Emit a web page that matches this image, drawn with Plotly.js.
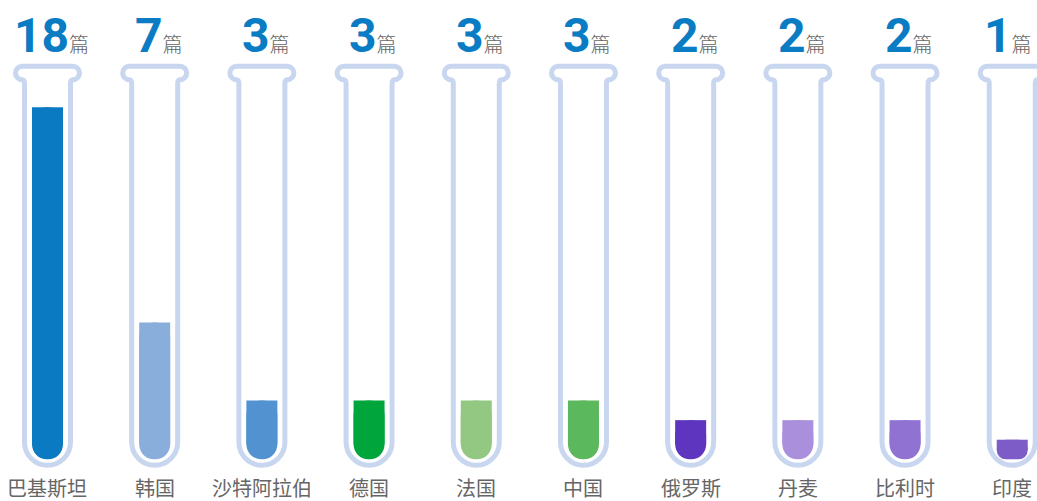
<!DOCTYPE html>
<html>
<head>
<meta charset="utf-8">
<script src="https://cdn.plot.ly/plotly-3.0.1.min.js"></script>
<style>html,body{margin:0;padding:0;background:#fff;}#chart{width:1037px;height:501px;}</style>
</head>
<body>
<div id="chart"></div>
<script>
// ---- data ----
var categories = ['巴基斯坦', '韩国', '沙特阿拉伯', '德国', '法国', '中国', '俄罗斯', '丹麦', '比利时', '印度'];
var values = [18, 7, 3, 3, 3, 3, 2, 2, 2, 1];
var unitLabel = '篇';
var barColors = ['#0a7bc2', '#8aaedc', '#5292d0', '#00a63c', '#93c882', '#5cb85c', '#5e35be', '#a98fdc', '#9072d2', '#7e5cc8'];

// ---- style ----
var tubeColor = '#c8d7ef';
var numColor = '#0a7cc4';
var labelColor = '#666666';
var yMin = -0.6, yMax = 20.47, plotH = 412;
var ppu = plotH / (yMax - yMin);
var capUnits = 15 / ppu;

var xIdx = categories.map(function (c, i) { return i; });

// tube outline in pixel offsets relative to (category, 0); +y is up
function tubePath() {
  var w = 23, k = 0.5523, arcC = 17, r = 23;
  var top = 375.5, lipB = 379.5, lipT = 392.9, lipX = 25.3, lipR = 32, lr = 6.7, lk = lr * k;
  function p(x, y) { return x.toFixed(2) + ',' + y.toFixed(2); }
  return 'M' + p(-w, top) +
    ' L' + p(-w, arcC) +
    ' C' + p(-w, arcC - r * k) + ' ' + p(-r * k, arcC - r) + ' ' + p(0, arcC - r) +
    ' C' + p(r * k, arcC - r) + ' ' + p(w, arcC - r * k) + ' ' + p(w, arcC) +
    ' L' + p(w, top) +
    ' C' + p(w, top + 2.5) + ' ' + p(w + 1, lipB) + ' ' + p(lipX, lipB) +
    ' C' + p(lipX + lk, lipB) + ' ' + p(lipR, lipB + lr - lk) + ' ' + p(lipR, lipB + lr) +
    ' C' + p(lipR, lipB + lr + lk) + ' ' + p(lipX + lk, lipT) + ' ' + p(lipX, lipT) +
    ' L' + p(-lipX, lipT) +
    ' C' + p(-lipX - lk, lipT) + ' ' + p(-lipR, lipB + lr + lk) + ' ' + p(-lipR, lipB + lr) +
    ' C' + p(-lipR, lipB + lr - lk) + ' ' + p(-lipX - lk, lipB) + ' ' + p(-lipX, lipB) +
    ' C' + p(-w - 1, lipB) + ' ' + p(-w, top + 2.5) + ' ' + p(-w, top) + ' Z';
}

var shapes = xIdx.map(function (i) {
  return {
    type: 'path', layer: 'below',
    xref: 'x', yref: 'y', xsizemode: 'pixel', ysizemode: 'pixel',
    xanchor: i, yanchor: 0,
    path: tubePath(),
    line: { color: tubeColor, width: 5 },
    fillcolor: 'rgba(0,0,0,0)'
  };
});

var annotations = [];
xIdx.forEach(function (i) {
  annotations.push({
    xref: 'x', yref: 'paper', x: i, y: 1, yanchor: 'bottom', xanchor: 'center',
    xshift: (i === xIdx.length - 1) ? -4 : 4, yshift: -7,
    showarrow: false,
    text: '<b>' + values[i] + '</b><span style="font-size:20px;color:' + labelColor + ';font-weight:300">' + unitLabel + '</span>',
    font: { family: 'Roboto, "Noto Sans CJK SC", sans-serif', size: 48, color: numColor, weight: 900 }
  });
  annotations.push({
    xref: 'x', yref: 'paper', x: i, y: 0, yanchor: 'top', xanchor: 'center',
    yshift: 0, showarrow: false,
    text: categories[i],
    font: { family: '"Noto Sans CJK SC", sans-serif', size: 20, color: labelColor }
  });
});

var barWidth = 31 / 107.2;
// rounded bar (rounded at both ends because it floats on a base)
var traceRound = {
  type: 'bar',
  x: xIdx,
  y: values.map(function (v) { return -v; }),
  base: values,
  width: barWidth,
  marker: { color: barColors, cornerradius: 15, line: { width: 0 } },
  hoverinfo: 'skip'
};
// square top part covering the upper rounding
var traceTop = {
  type: 'bar',
  x: xIdx,
  y: values.map(function (v) { return -(v - Math.min(capUnits, v / 2)); }),
  base: values,
  width: barWidth,
  marker: { color: barColors, line: { width: 0 } },
  hoverinfo: 'skip'
};

var layout = {
  width: 1037, height: 501,
  margin: { l: 0, r: 0, t: 59, b: 30, pad: 0 },
  paper_bgcolor: '#ffffff', plot_bgcolor: '#ffffff',
  showlegend: false,
  barmode: 'overlay',
  xaxis: { range: [-0.443, 9.231], showgrid: false, zeroline: false, showticklabels: false, showline: false, ticks: '', fixedrange: true },
  yaxis: { range: [yMin, yMax], showgrid: false, zeroline: false, showticklabels: false, showline: false, ticks: '', fixedrange: true },
  shapes: shapes,
  annotations: annotations
};

Plotly.newPlot('chart', [traceRound, traceTop], layout, { displayModeBar: false, staticPlot: true });
</script>
</body>
</html>
